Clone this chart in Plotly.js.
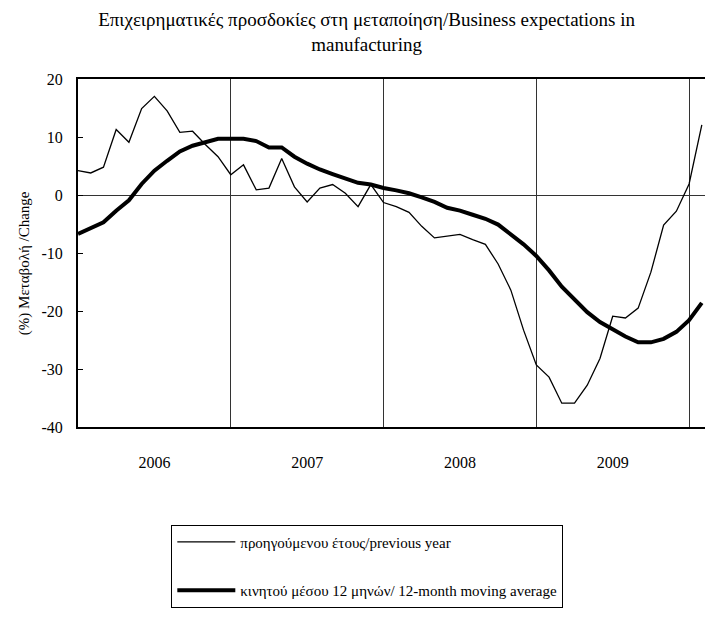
<!DOCTYPE html>
<html>
<head>
<meta charset="utf-8">
<script src="https://cdn.plot.ly/plotly-3.0.1.min.js"></script>
<style>html,body{margin:0;padding:0;background:#fff;}#chart{width:705px;height:626px;}</style>
</head>
<body>
<div id="chart"></div>
<script>
// Monthly observations, Jan 2006 (index 0) to Feb 2010 (index 49)
const monthIndex = Array.from({length: 50}, (_, i) => i);
const previousYear = [4.2, 3.8, 4.8, 11.3, 9.1, 14.9, 17.0, 14.5, 10.8, 11.0,
  8.7, 6.6, 3.5, 5.2, 0.9, 1.2, 6.3, 1.4, -1.2, 1.2,
  1.8, 0.3, -2.0, 1.8, -1.3, -2.0, -3.0, -5.4, -7.4, -7.1,
  -6.8, -7.7, -8.5, -11.9, -16.4, -23.3, -29.3, -31.4, -35.9, -35.9,
  -32.8, -28.2, -20.9, -21.2, -19.5, -13.3, -5.2, -2.8, 1.9, 12.1];
const movingAverage = [-6.7, -5.7, -4.7, -2.7, -0.9, 1.9, 4.2, 5.9, 7.5, 8.5,
  9.1, 9.7, 9.7, 9.7, 9.3, 8.2, 8.2, 6.6, 5.4, 4.4,
  3.6, 2.8, 2.1, 1.8, 1.2, 0.8, 0.3, -0.4, -1.2, -2.2,
  -2.7, -3.4, -4.1, -5.1, -6.7, -8.5, -10.5, -13.0, -15.8, -18.1,
  -20.2, -21.9, -23.1, -24.4, -25.4, -25.4, -24.8, -23.6, -21.6, -18.6];
const yearLabels = ['2006', '2007', '2008', '2009'];
const yearLabelPositions = [6, 18, 30, 42];
const yTickValues = [20, 10, 0, -10, -20, -30, -40];
const yTickLabels = ['20', '10', '0', '-10', '-20', '-30', '-40'];
const seriesNames = ['προηγούμενου έτους/previous year', 'κινητού μέσου 12 μηνών/ 12-month moving average'];
const yTitle = '(%) Μεταβολή /Change';
const chartTitle = 'Επιχειρηματικές προσδοκίες στη μεταποίηση/Business expectations in<br>manufacturing';

const font = 'Liberation Serif, Times New Roman, serif';

const traces = [
  {x: monthIndex, y: previousYear, name: seriesNames[0], type: 'scatter', mode: 'lines',
   line: {color: '#000', width: 1.3}, legendgroup: 'a'},
  {x: monthIndex, y: movingAverage, name: seriesNames[1], type: 'scatter', mode: 'lines',
   line: {color: '#000', width: 4}, legendgroup: 'b'}
];

const layout = {
  width: 705, height: 626,
  paper_bgcolor: '#fff', plot_bgcolor: '#fff',
  margin: {l: 78, r: 0, t: 79, b: 199, autoexpand: false},
  font: {family: font, color: '#000', size: 15},
  title: {text: chartTitle,
          font: {family: font, size: 19, color: '#000'},
          x: 0.52, xanchor: 'center', xref: 'container', y: 0.958, yanchor: 'top', yref: 'container', automargin: false},
  xaxis: {
    range: [0, 49.25], showgrid: false, zeroline: false, automargin: false,
    showline: true, linecolor: '#000', linewidth: 2, mirror: true,
    tickmode: 'array', tickvals: yearLabelPositions, ticktext: yearLabels,
    ticks: '', ticklabelstandoff: 20, tickfont: {family: font, size: 16},
    minor: {tick0: 0, dtick: 12, showgrid: true, gridcolor: '#333', gridwidth: 1, ticks: ''}
  },
  yaxis: {
    range: [-40, 20], showgrid: false, automargin: false,
    tickmode: 'array', tickvals: yTickValues, ticktext: yTickLabels,
    zeroline: true, zerolinecolor: '#333', zerolinewidth: 1,
    showline: true, linecolor: '#000', linewidth: 2,
    ticks: 'inside', ticklen: 5, tickcolor: '#000', ticklabelstandoff: 10,
    tickfont: {family: font, size: 16}
  },
  annotations: [{
    text: yTitle, textangle: -90, showarrow: false,
    xref: 'paper', yref: 'paper', x: -0.085, y: 0.47, xanchor: 'center', yanchor: 'middle',
    font: {family: font, size: 15, color: '#000'}
  }],
  showlegend: true,
  legend: {
    xref: 'container', yref: 'container', x: 0.243, y: 0.162, xanchor: 'left', yanchor: 'top',
    bgcolor: '#fff', bordercolor: '#000', borderwidth: 1, itemwidth: 58,
    font: {family: font, size: 15}, traceorder: 'grouped', tracegroupgap: 26
  }
};

Plotly.newPlot('chart', traces, layout, {displayModeBar: false, staticPlot: true});
</script>
</body>
</html>
